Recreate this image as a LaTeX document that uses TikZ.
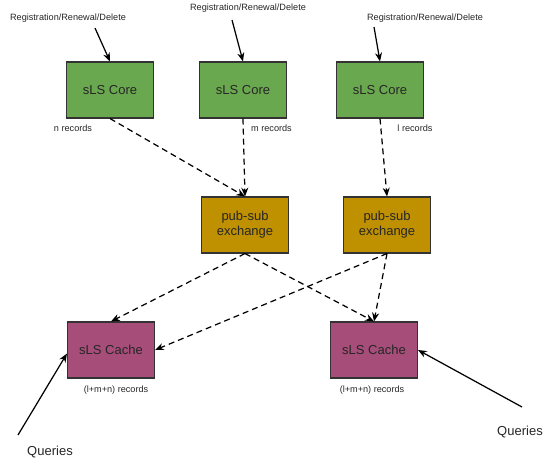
\documentclass[tikz,border=0pt]{standalone}
\usepackage{fontspec}
\setmainfont{Liberation Sans}
\usepackage{tikz}
\usetikzlibrary{arrows.meta}

\definecolor{coregreen}{HTML}{6AA84F}
\definecolor{pubgold}{HTML}{BF9000}
\definecolor{cachepink}{HTML}{A64D79}
\definecolor{textgray}{HTML}{262626}

\tikzset{
    box/.style={draw=black!80, line width=0.6pt, rectangle, minimum width=1.74cm,
        minimum height=1.12cm, align=center, text=textgray, font=\fontsize{7.4}{8.6}\selectfont},
    small/.style={text=textgray, font=\fontsize{5.2}{6}\selectfont, inner sep=0pt},
    flow/.style={->, dashed, dash pattern=on 3.4pt off 2.3pt, line width=0.7pt},
    feed/.style={->, line width=0.7pt},
}

\begin{document}
\begin{tikzpicture}[>={Stealth[length=5pt,width=4pt]}]
    \useasboundingbox (0,0) rectangle (10.86,-9.26);

    \node[box, fill=coregreen] (Core1) at (2.2,-1.8) {sLS Core};
    \node[box, fill=coregreen] (Core2) at (4.86,-1.8) {sLS Core};
    \node[box, fill=coregreen] (Core3) at (7.6,-1.8) {sLS Core};
    \node[box, fill=pubgold] (Pub1) at (4.9,-4.5) {pub-sub\\exchange};
    \node[box, fill=pubgold] (Pub2) at (7.74,-4.5) {pub-sub\\exchange};
    \node[box, fill=cachepink] (Cache1) at (2.22,-7.0) {sLS Cache};
    \node[box, fill=cachepink] (Cache2) at (7.48,-7.0) {sLS Cache};

    \node[small] (Reg1) at (1.36,-0.36) {Registration/Renewal/Delete};
    \node[small] (Reg2) at (4.96,-0.16) {Registration/Renewal/Delete};
    \node[small] (Reg3) at (8.5,-0.36) {Registration/Renewal/Delete};
    \node[small] (Rec1) at (1.46,-2.56) {n records};
    \node[small] (Rec2) at (5.43,-2.56) {m records};
    \node[small] (Rec3) at (8.3,-2.56) {l records};
    \node[small] (Sum1) at (2.32,-7.8) {(l+m+n) records};
    \node[small] (Sum2) at (7.44,-7.8) {(l+m+n) records};
    \node[text=textgray, font=\fontsize{7.4}{8.6}\selectfont] (Query1) at (1.0,-9.04) {Queries};
    \node[text=textgray, font=\fontsize{7.4}{8.6}\selectfont] (Query2) at (10.4,-8.64) {Queries};

    % free ends of the solid arrows
    \coordinate (In1) at (1.9,-0.56);
    \coordinate (In2) at (4.64,-0.4);
    \coordinate (In3) at (7.48,-0.54);
    \coordinate (Q1) at (0.36,-8.7);
    \coordinate (Q2) at (10.44,-8.14);

    \draw[feed] (In1) -- (Core1.north);
    \draw[feed] (In2) -- (Core2.north);
    \draw[feed] (In3) -- (Core3.north);
    \draw[feed] (Q1) -- ([yshift=-2pt]Cache1.west);
    \draw[feed] (Q2) -- (Cache2.east);

    \draw[flow] (Core1.south) -- (Pub1.north);
    \draw[flow] (Core2.south) -- (Pub1.north);
    \draw[flow] (Core3.south) -- (Pub2.north);
    \draw[flow] (Pub1.south) -- (Cache1.north);
    \draw[flow] (Pub1.south) -- (Cache2.north);
    \draw[flow] (Pub2.south) -- (Cache1.east);
    \draw[flow] (Pub2.south) -- (Cache2.north);
\end{tikzpicture}
\end{document}
